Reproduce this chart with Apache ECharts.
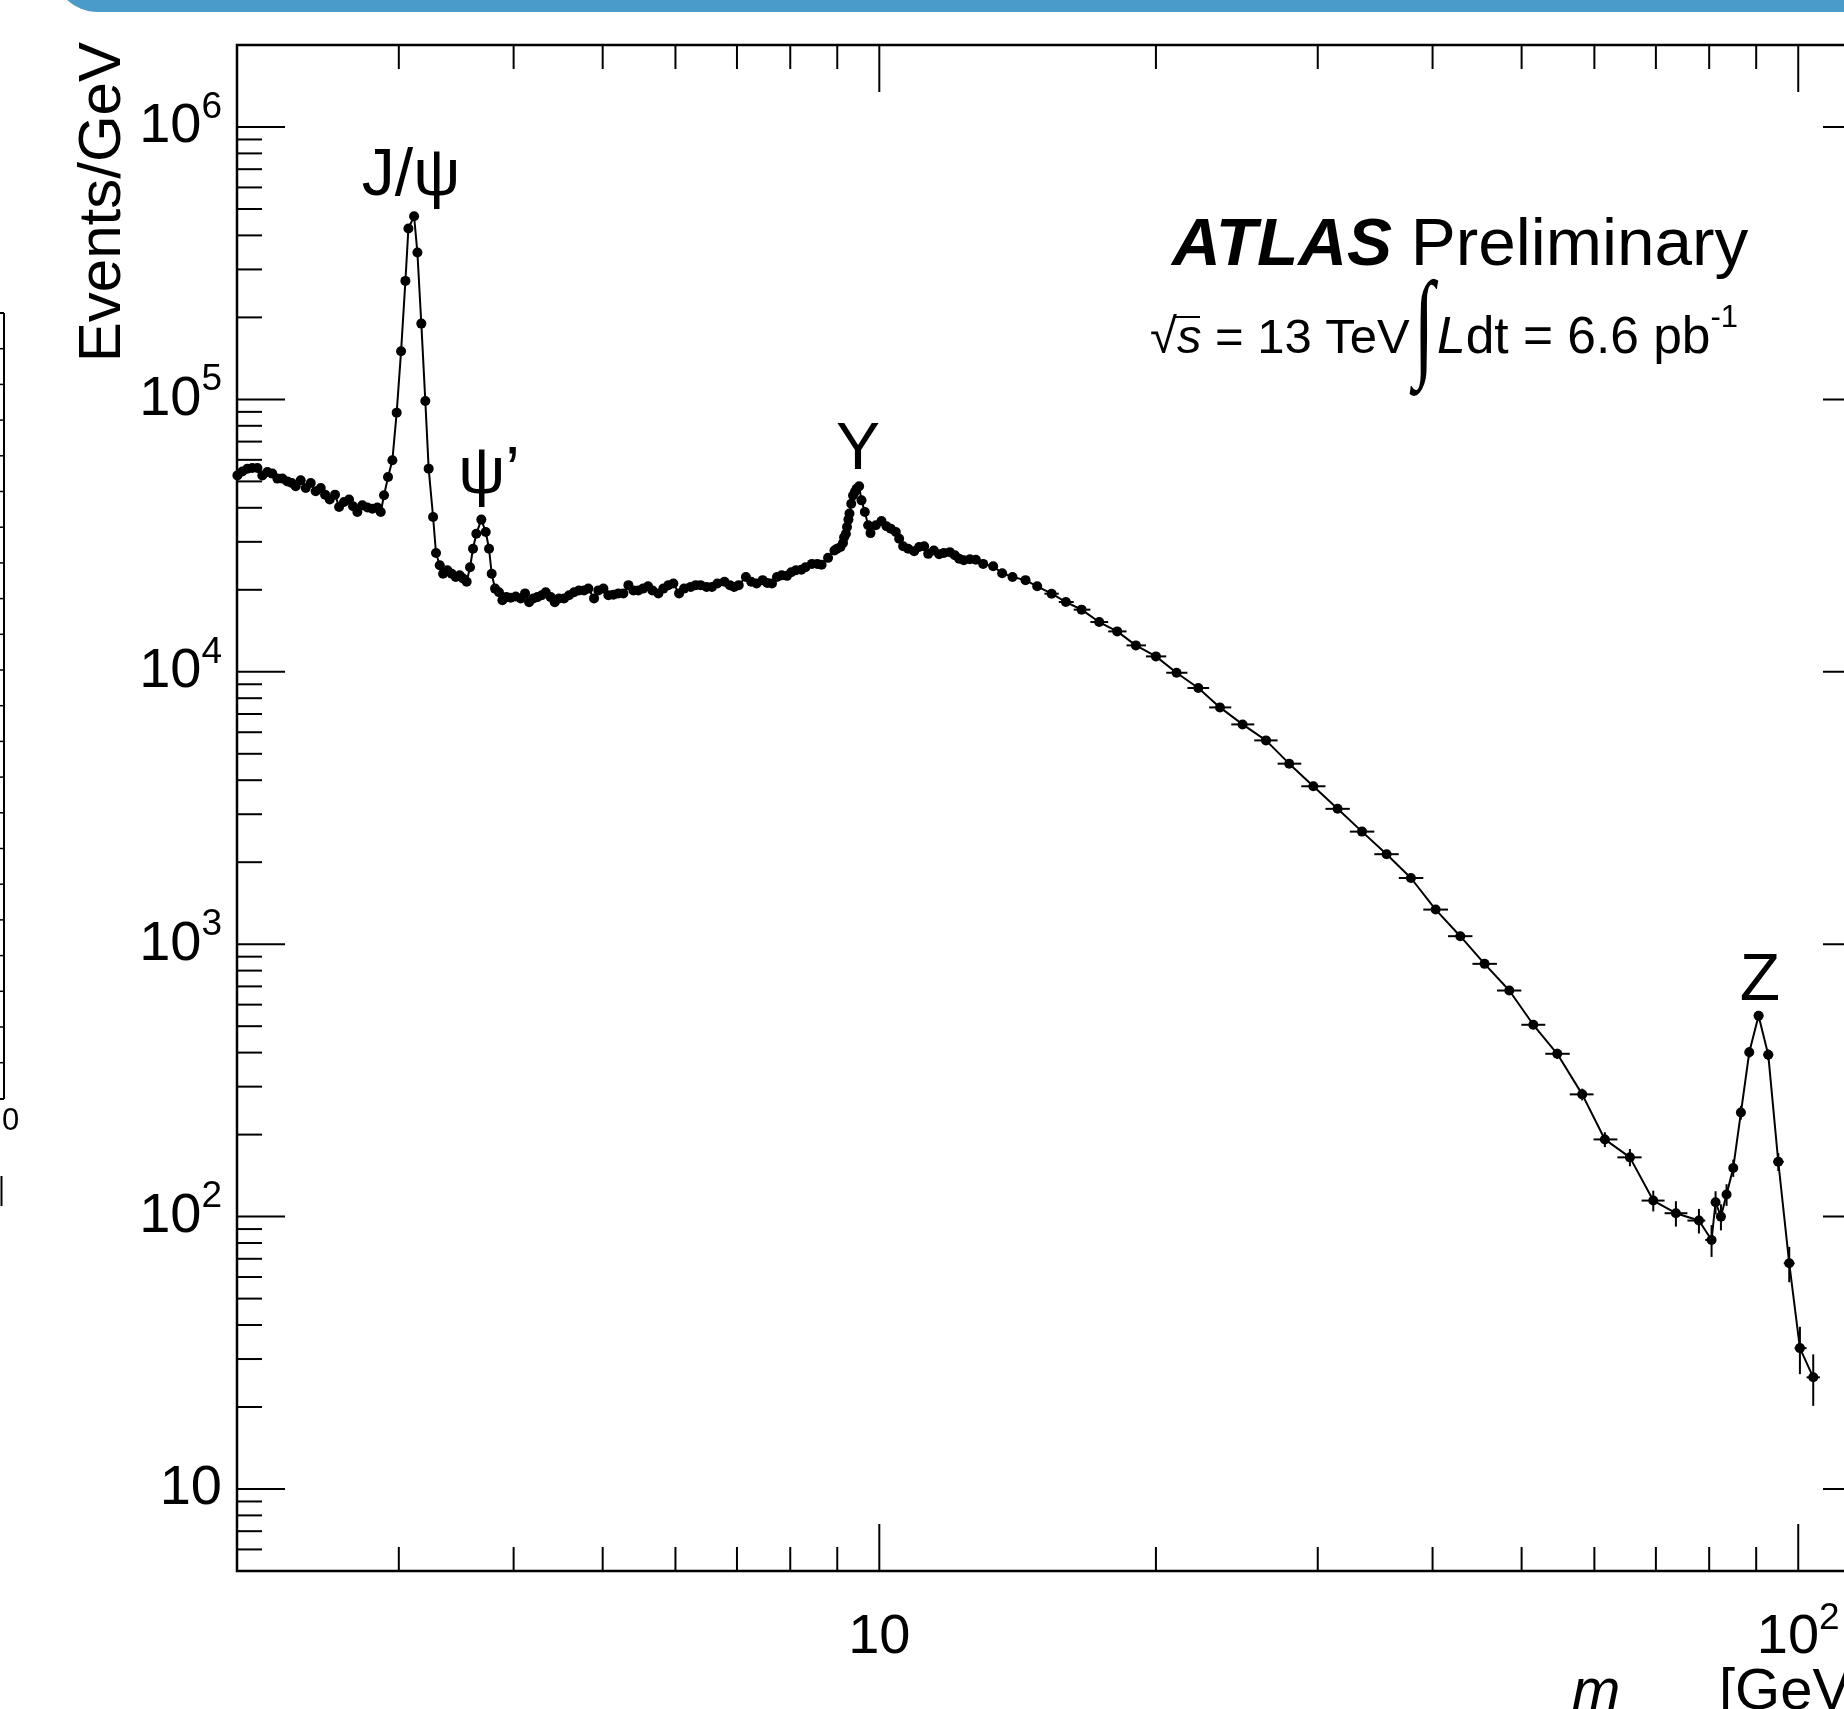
<!DOCTYPE html>
<html>
<head>
<meta charset="utf-8">
<script src="https://cdn.jsdelivr.net/npm/echarts@6/dist/echarts.min.js"></script>
<style>
html, body { margin: 0; padding: 0; background: #fff; overflow: hidden; }
#chart { width: 1900px; height: 1709px; }
</style>
</head>
<body>
<div id="chart"></div>
<script>
// dimuon mass spectrum, fine bins 2 - 15 GeV (stat. errors hidden by the markers)
const lowMass = [
  2.002, 2.027, 2.053, 2.078, 2.105, 2.131, 2.158, 2.185, 2.213, 2.241,
  2.269, 2.294, 2.317, 2.346, 2.376, 2.406, 2.436, 2.467, 2.494, 2.523,
  2.557, 2.583, 2.615, 2.648, 2.675, 2.704, 2.738, 2.773, 2.808, 2.843,
  2.867, 2.891, 2.920, 2.952, 2.984, 3.017, 3.050, 3.073, 3.117, 3.143,
  3.174, 3.206, 3.233, 3.269, 3.293, 3.324, 3.352, 3.388, 3.425, 3.460,
  3.494, 3.524, 3.556, 3.586, 3.613, 3.643, 3.689, 3.730, 3.761, 3.786,
  3.818, 3.856, 3.889, 3.928, 3.971, 4.021, 4.072, 4.116, 4.158, 4.203,
  4.245, 4.292, 4.335, 4.389, 4.434, 4.482, 4.539, 4.596, 4.654, 4.712,
  4.772, 4.824, 4.893, 4.946, 5.009, 5.072, 5.136, 5.201, 5.266, 5.333,
  5.400, 5.468, 5.532, 5.602, 5.663, 5.749, 5.821, 5.895, 5.969, 6.055,
  6.131, 6.234, 6.313,
  6.389, 6.487, 6.575, 6.664, 6.784, 6.876, 6.950, 7.031, 7.158, 7.255,
  7.353, 7.466, 7.553, 7.642, 7.738, 7.829, 7.934, 8.020, 8.114, 8.224,
  8.312, 8.447, 8.562, 8.654, 8.795, 8.937, 8.994, 9.074, 9.131, 9.156,
  9.197, 9.222, 9.255, 9.280, 9.321, 9.363, 9.405, 9.447, 9.507,
  9.564, 9.644, 9.725, 9.782, 9.914, 10.055, 10.182, 10.293, 10.423, 10.510,
  10.616, 10.750, 10.913, 11.050, 11.190, 11.303, 11.464, 11.618, 11.755, 11.933,
  12.084, 12.216, 12.359, 12.547, 12.737, 12.973, 13.302, 13.605, 13.962, 14.425,
  14.853
];
const lowEvents = [
  52600, 54400, 55700, 56000, 56000, 52600, 54100, 53400, 51200, 51200,
  50000, 49300, 48000, 50500, 47300, 49300, 46000, 47300, 44700, 42900,
  44700, 40300, 42000, 42900, 40500, 38600, 40900, 40100, 39700, 40100,
  38600, 44500, 51900, 59800, 89400, 150200, 272300, 423900, 470400, 346000,
  189800, 98700, 55700, 37000, 27300, 24600, 22900, 23600, 22900, 22300,
  22600, 22000, 21400, 24200, 28300, 32100, 36200, 32600, 28300, 22900,
  20200, 19600, 18300, 18800, 18700, 18900, 18600, 19400, 18000, 18600,
  18800, 19100, 19600, 18800, 18000, 18600, 18600, 19100, 19600, 19900,
  19900, 20200, 18600, 19900, 20200, 19100, 19200, 19400, 19400, 20800,
  19900, 19900, 20200, 20600, 19900, 19400, 20200, 20800, 21100, 19400,
  20200, 20500, 20800,
  20800, 20500, 20500, 21100, 21400, 20800, 20500, 20800, 22300, 21400,
  21100, 21700, 21200, 21100, 22300, 22600, 22500, 23200, 23600, 23700,
  24200, 24900, 24900, 24700, 26200, 27900, 28300, 28700, 29700, 31200,
  32100, 34000, 36200, 38100, 41400, 44400, 45700, 47000, 48000,
  42600, 38600, 34500, 32300, 34500, 35800, 34200, 33500, 32600, 30800,
  28900, 28300, 27700, 28700, 28900, 27100, 27900, 27000, 27300, 27500,
  26800, 26000, 25700, 25900, 25800, 24900, 24400, 23000, 22300, 21700,
  20600
];

// wider bins 15 - 104 GeV, with statistical errors
const highMass = [
  15.40, 15.96, 16.60, 17.35, 18.15, 19.02, 20.00, 21.06, 22.24, 23.48,
  24.85, 26.35, 27.93, 29.67, 31.53, 33.52, 35.65, 37.89, 40.31, 42.88,
  45.57, 48.48, 51.49, 54.67, 58.20, 61.60, 65.59, 69.54, 73.60, 77.97,
  80.48, 81.29, 82.39, 83.56, 84.97, 86.62, 88.45, 90.54, 92.76, 95.12,
  97.77, 100.42, 103.83
];
const highEvents = [
  19350, 18040, 16910, 15230, 14070, 12500, 11390, 9920, 8720, 7400,
  6410, 5600, 4600, 3800, 3140, 2590, 2140, 1750, 1340, 1070,
  847, 676, 506, 396, 281, 192, 165, 114.5, 102.9, 96.7,
  82.1, 112.9, 100.0, 120.5, 150.9, 241, 401, 546, 393, 159,
  67.4, 32.9, 25.7
];
const highErr = [
  150, 140, 130, 120, 115, 105, 100, 90, 85, 80,
  72, 66, 60, 55, 48, 44, 40, 36, 31, 28,
  25, 22, 19, 17, 14, 12, 12, 10, 11, 10,
  11, 11, 11, 11, 11, 14, 18, 21, 18, 12,
  10, 6.5, 5.5
];

const xMajorTicks = [10, 100];
const xMinorTicks = [3, 4, 5, 6, 7, 8, 9, 20, 30, 40, 50, 60, 70, 80, 90];
const yMajorTicks = [10, 100, 1e3, 1e4, 1e5, 1e6];
const yMinorTicks = [];
[1, 10, 100, 1e3, 1e4, 1e5, 1e6].forEach(function (d) {
  for (let k = 2; k <= 9; k++) {
    if (k * d > 5 && k * d < 2e6) yMinorTicks.push(k * d);
  }
});

const X_MIN = 2, X_MAX = 120, Y_MIN = 5, Y_MAX = 2e6;
const FONT = '"Liberation Sans", Arial, Helvetica, sans-serif';

const allMass = lowMass.concat(highMass);
const lineData = lowMass.map((m, i) => [m, lowEvents[i]])
  .concat(highMass.map((m, i) => [m, highEvents[i]]));

// error bars: horizontal bar spans to the midpoints with the neighbouring bins
const errData = highMass.map(function (m, i) {
  const k = lowMass.length + i;
  const lo = Math.sqrt(allMass[k - 1] * m);
  const hi = k + 1 < allMass.length ? Math.sqrt(m * allMass[k + 1]) : m * m / lo;
  return [m, highEvents[i], highErr[i], lo, hi];
});

const yTickData = yMajorTicks.map(v => [X_MIN, v, 48]).concat(yMinorTicks.map(v => [X_MIN, v, 25]));
const xTickData = xMajorTicks.map(v => [v, Y_MIN, 47]).concat(xMinorTicks.map(v => [v, Y_MIN, 24]));

function powLabel(v) {
  const e = Math.round(Math.log10(v));
  if (Math.abs(v - Math.pow(10, e)) > 1e-6 * v) return '';
  return e === 1 ? '10' : '10{sup|' + e + '}';
}

const labelRich = {
  sup: { fontSize: 37, fontFamily: FONT, color: '#000', lineHeight: 37, verticalAlign: 'top' }
};

function blackLine(x1, y1, x2, y2, w) {
  return { type: 'line', shape: { x1: x1, y1: y1, x2: x2, y2: y2 },
           style: { stroke: '#000', lineWidth: w || 2 } };
}

function renderYTick(params, api) {
  const v = api.value(1), len = api.value(2);
  const l = api.coord([X_MIN, v]), r = api.coord([X_MAX, v]);
  return { type: 'group', children: [
    blackLine(l[0], l[1], l[0] + len, l[1]),
    blackLine(r[0], r[1], r[0] - len, r[1])
  ] };
}

function renderXTick(params, api) {
  const m = api.value(0), len = api.value(2);
  const b = api.coord([m, Y_MIN]), t = api.coord([m, Y_MAX]);
  return { type: 'group', children: [
    blackLine(b[0], b[1], b[0], b[1] - len),
    blackLine(t[0], t[1], t[0], t[1] + len)
  ] };
}

function renderErr(params, api) {
  const m = api.value(0), v = api.value(1), e = api.value(2);
  const lo = api.value(3), hi = api.value(4);
  const top = api.coord([m, v + e]), bot = api.coord([m, v - e]);
  const left = api.coord([lo, v]), right = api.coord([hi, v]);
  return { type: 'group', children: [
    blackLine(top[0], top[1], bot[0], bot[1], 2),
    blackLine(left[0], left[1], right[0], right[1], 2)
  ] };
}

function txt(text, x, y, size, extra, rot) {
  return {
    type: 'text', x: x, y: y, z: 20, rotation: rot || 0,
    style: Object.assign({
      text: text, fill: '#000', fontSize: size, fontFamily: FONT,
      align: 'center', verticalAlign: 'middle'
    }, extra || {})
  };
}

// frame edge of the cut-off neighbouring panel at the far left
const remnant = [
  blackLine(4, 313, 4, 1099, 2),
  blackLine(0, 313, 4, 313, 2),
  blackLine(0, 1099, 4, 1099, 2),
  blackLine(1.5, 1176, 1.5, 1206, 2)
];
for (let i = 1; i < 22; i++) {
  remnant.push(blackLine(0, 313 + i * 35.7, 4, 313 + i * 35.7, 1.5));
}

const chart = echarts.init(document.getElementById('chart'));
chart.setOption({
  animation: false,
  backgroundColor: '#fff',
  grid: {
    left: 237, top: 45, width: 1634, height: 1526,
    show: true, borderColor: '#000', borderWidth: 2.5, backgroundColor: 'transparent'
  },
  xAxis: {
    type: 'log', logBase: 10, min: X_MIN, max: X_MAX,
    axisLine: { show: false }, axisTick: { show: false }, splitLine: { show: false },
    axisLabel: {
      formatter: powLabel, margin: 29, color: '#000', fontSize: 56,
      fontFamily: FONT, lineHeight: 76, rich: labelRich
    }
  },
  yAxis: {
    type: 'log', logBase: 10, min: Y_MIN, max: Y_MAX,
    axisLine: { show: false }, axisTick: { show: false }, splitLine: { show: false },
    axisLabel: {
      formatter: powLabel, margin: 15, color: '#000', fontSize: 56,
      fontFamily: FONT, lineHeight: 76, rich: labelRich
    }
  },
  series: [
    {
      type: 'custom', name: 'errors', data: errData, renderItem: renderErr,
      encode: { x: 0, y: 1 }, z: 2, silent: true
    },
    {
      type: 'line', name: 'data', data: lineData,
      symbol: 'circle', symbolSize: 10, showAllSymbol: true,
      itemStyle: { color: '#000' }, lineStyle: { color: '#000', width: 2 },
      z: 3, silent: true
    },
    {
      type: 'custom', name: 'yticks', data: yTickData, renderItem: renderYTick,
      encode: { x: 0, y: 1 }, z: 4, silent: true
    },
    {
      type: 'custom', name: 'xticks', data: xTickData, renderItem: renderXTick,
      encode: { x: 0, y: 1 }, z: 4, silent: true
    }
  ],
  graphic: [
    {
      type: 'rect', x: 0, y: 0, z: 1,
      shape: { x: 52, y: -80, width: 1900, height: 92, r: 46 },
      style: { fill: '#4a9bc9' }
    },
    { type: 'group', children: remnant },
    txt('0', 2, 1121, 31, { align: 'left' }),
    txt('Events/GeV', 103, 42, 60, { align: 'right' }, Math.PI / 2),
    txt('J/ψ', 411, 177, 66),
    txt('ψ’', 489, 475, 66),
    txt('Υ', 858, 451, 66),
    txt('Z', 1760, 982, 66),
    txt('{b|ATLAS} Preliminary', 1172, 246, 67.5, {
      align: 'left',
      rich: { b: { fontSize: 67.5, fontFamily: FONT, fontWeight: 'bold', fontStyle: 'italic' } }
    }),
    txt('√{it|s} = 13 TeV', 1150, 339, 49, {
      align: 'left',
      rich: { it: { fontSize: 49, fontFamily: FONT, fontStyle: 'italic' } }
    }),
    { type: 'line', z: 20, shape: { x1: 1173, y1: 317, x2: 1200, y2: 317 },
      style: { stroke: '#000', lineWidth: 2 } },
    {
      type: 'text', x: 1424, y: 333, z: 20, scaleX: 0.9, scaleY: 1.42,
      style: { text: '∫', fill: '#000', fontSize: 84, fontFamily: '"Liberation Serif", serif',
               fontStyle: 'italic', align: 'center', verticalAlign: 'middle' }
    },
    txt('{it|L}dt = 6.6 pb{sup|-1}', 1437, 339, 51.5, {
      align: 'left',
      rich: {
        it: { fontSize: 51.5, fontFamily: FONT, fontStyle: 'italic' },
        sup: { fontSize: 31, fontFamily: FONT, padding: [0, 0, 42, 0] }
      }
    }),
    txt('m', 1572, 1693, 58, { align: 'left', fontStyle: 'italic' }),
    txt('μμ', 1618, 1730, 40, { align: 'left', fontStyle: 'italic' }),
    txt('[GeV]', 1719, 1693, 58, { align: 'left' })
  ]
});
</script>
</body>
</html>
